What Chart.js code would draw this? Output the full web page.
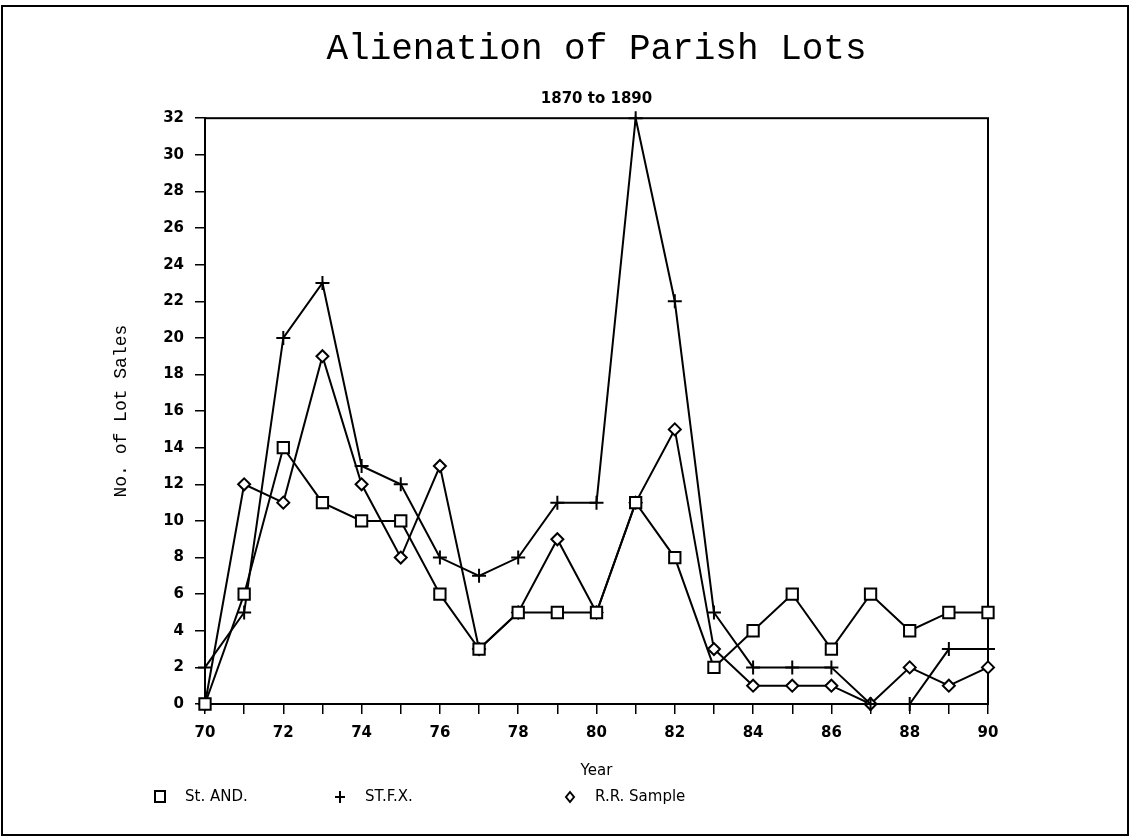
<!DOCTYPE html>
<html>
<head>
<meta charset="utf-8">
<title>Alienation of Parish Lots</title>
<script src="https://cdn.jsdelivr.net/npm/chart.js@4"></script>
<style>
  html, body { margin: 0; padding: 0; background: #fff; overflow: hidden; }
  canvas { display: block; }
</style>
</head>
<body>
<canvas id="lots_chart" width="1130" height="837"></canvas>
<script>
// Data
const years = ['70', '71', '72', '73', '74', '75', '76', '77', '78', '79', '80',
               '81', '82', '83', '84', '85', '86', '87', '88', '89', '90'];
const st_and = [0, 6, 14, 11, 10, 10, 6, 3, 5, 5, 5, 11, 8, 2, 4, 6, 3, 6, 4, 5, 5];
const st_fx = [2, 5, 20, 23, 13, 12, 8, 7, 8, 11, 11, 32, 22, 5, 2, 2, 2, 0, 0, 3, 3];
const rr_sample = [0, 12, 11, 19, 12, 8, 13, 3, 5, 9, 5, 11, 15, 3, 1, 1, 1, 0, 2, 1, 2];
const y_ticks = {min: 0, max: 32, step: 2};

const tickFont = {family: 'DejaVu Sans', size: 15, weight: 'bold'};

// box round the plot and frame round the page
const frames = {
    id: 'frames',
    beforeDatasetsDraw(chart) {
        const {ctx, chartArea: a} = chart;
        ctx.save();
        ctx.strokeStyle = '#000';
        ctx.lineWidth = 2;
        ctx.strokeRect(a.left, a.top, a.right - a.left, a.bottom - a.top);
        ctx.restore();
    },
    afterDraw(chart) {
        const ctx = chart.ctx;
        ctx.save();
        ctx.strokeStyle = '#000';
        ctx.lineWidth = 2;
        ctx.strokeRect(2, 6, chart.width - 4, chart.height - 8);
        ctx.restore();
    }
};

// legend row under the axis title, symbols spaced like the plotter did it
const legendRow = {
    id: 'legendRow',
    afterDraw(chart) {
        const ctx = chart.ctx;
        const xs = [160, 340, 570];
        const y = 797;
        ctx.save();
        ctx.strokeStyle = '#000';
        ctx.fillStyle = '#000';
        ctx.lineWidth = 2;
        ctx.font = '15px "DejaVu Sans"';
        ctx.textBaseline = 'middle';
        chart.data.datasets.forEach((ds, i) => {
            const x = xs[i];
            ctx.beginPath();
            if (ds.pointStyle === 'rect') {
                ctx.rect(x - 5, y - 6, 10, 11);
            } else if (ds.pointStyle === 'cross') {
                ctx.moveTo(x - 5, y); ctx.lineTo(x + 5, y);
                ctx.moveTo(x, y - 6); ctx.lineTo(x, y + 6);
            } else {
                ctx.moveTo(x, y - 5); ctx.lineTo(x + 4, y);
                ctx.lineTo(x, y + 5); ctx.lineTo(x - 4, y);
                ctx.closePath();
            }
            ctx.stroke();
            ctx.fillText(ds.label, x + 25, y);
        });
        ctx.restore();
    }
};

const config_lots = {
    type: 'line',
    data: {
        labels: years,
        datasets: [
            {
                label: 'St. AND.',
                data: st_and,
                pointStyle: 'rect',
                pointRadius: 8,
                pointBorderWidth: 2
            },
            {
                label: 'ST.F.X.',
                data: st_fx,
                pointStyle: 'cross',
                pointRadius: 7,
                pointBorderWidth: 2
            },
            {
                label: 'R.R. Sample',
                data: rr_sample,
                pointStyle: 'rectRot',
                pointRadius: 6,
                pointBorderWidth: 2
            }
        ].map(ds => Object.assign({
            borderColor: '#000',
            backgroundColor: '#fff',
            pointBorderColor: '#000',
            pointBackgroundColor: '#fff',
            borderWidth: 2,
            tension: 0,
            clip: false
        }, ds))
    },
    options: {
        responsive: false,
        devicePixelRatio: 1,
        animation: false,
        layout: {padding: {left: 106, right: 142, top: 0, bottom: 53}},
        plugins: {
            legend: {display: false},
            tooltip: {enabled: false},
            title: {
                display: true,
                text: 'Alienation of Parish Lots',
                color: '#000',
                fullSize: false,
                font: {family: 'Liberation Mono', size: 36, weight: 'normal'},
                padding: {top: 28, bottom: 19}
            },
            subtitle: {
                display: true,
                text: '1870 to 1890',
                color: '#000',
                fullSize: false,
                font: {family: 'DejaVu Sans', size: 15, weight: 'bold'},
                padding: {top: 0, bottom: 10}
            }
        },
        scales: {
            x: {
                type: 'category',
                offset: false,
                afterFit(scale) { scale.height = 80; },
                grid: {
                    drawOnChartArea: false,
                    drawTicks: true,
                    tickLength: 10,
                    color: '#000',
                    lineWidth: 1.5
                },
                border: {display: true, color: '#000', width: 2},
                ticks: {
                    autoSkip: false,
                    maxRotation: 0,
                    color: '#000',
                    font: tickFont,
                    padding: 10,
                    callback: (val, i) => (i % 2 === 0 ? years[i] : '')
                },
                title: {
                    display: true,
                    text: 'Year',
                    color: '#000',
                    font: {family: 'DejaVu Sans', size: 15}
                }
            },
            y: {
                min: y_ticks.min,
                max: y_ticks.max,
                afterFit(scale) { scale.width = 99; },
                grid: {
                    drawOnChartArea: false,
                    drawTicks: true,
                    tickLength: 10,
                    color: '#000',
                    lineWidth: 1.5
                },
                border: {display: true, color: '#000', width: 2},
                ticks: {
                    stepSize: y_ticks.step,
                    color: '#000',
                    font: tickFont,
                    padding: 11
                },
                title: {
                    display: true,
                    text: 'No. of Lot Sales',
                    color: '#000',
                    font: {family: 'Liberation Mono', size: 18}
                }
            }
        }
    },
    plugins: [frames, legendRow]
};

const lots_chart = new Chart(
    document.getElementById('lots_chart'),
    config_lots
);
</script>
</body>
</html>
